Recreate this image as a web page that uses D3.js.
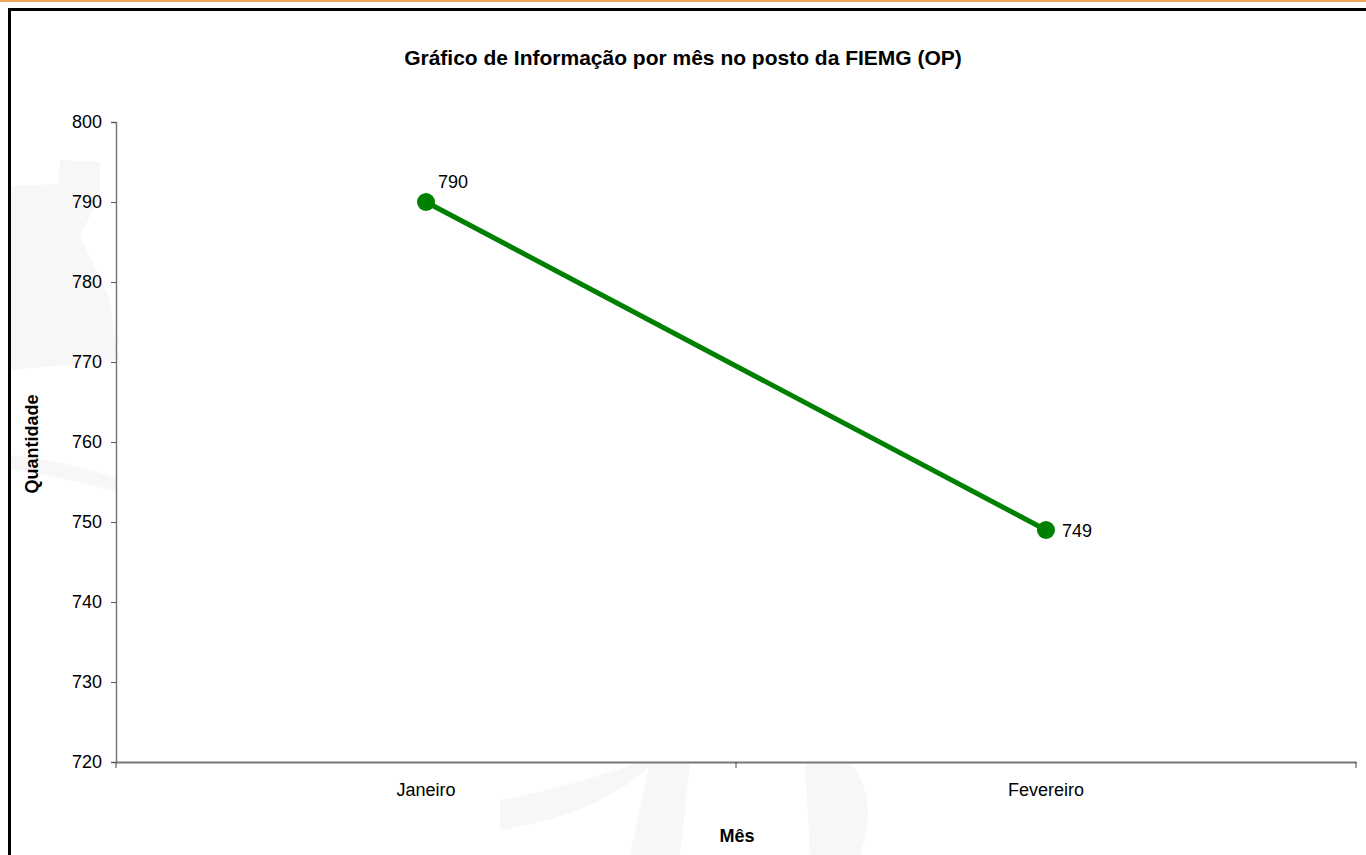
<!DOCTYPE html>
<html>
<head>
<meta charset="utf-8">
<script src="https://cdn.jsdelivr.net/npm/d3@7"></script>
<style>
  body { margin: 0; background: #fff; }
  svg { display: block; font-family: "Liberation Sans", Arial, sans-serif; }
</style>
</head>
<body>
<svg id="chart" width="1366" height="855"></svg>
<script>
// data
const months = ['Janeiro', 'Fevereiro'];
const quantities = [790, 749];
const yTicks = [720, 730, 740, 750, 760, 770, 780, 790, 800];

const svg = d3.select('#chart');
const margin = { left: 116, right: 1356, top: 122, bottom: 762 };
const FONT = '"Liberation Sans", Arial, sans-serif';

// frame: orange rule on top, black border left/top
svg.append('rect').attr('x', 0).attr('y', 0).attr('width', 1366).attr('height', 2)
  .attr('fill', '#f0a45a');
svg.append('path')
  .attr('d', 'M9.5,855V9.5H1366')
  .attr('fill', 'none').attr('stroke', '#000').attr('stroke-width', 3);

// very faint watermark shapes
const wm = svg.append('g').attr('fill', '#f7f7f7');
wm.append('path').attr('d', 'M11,186 L58,184 L60,160 L100,162 L100,196 L80,236 L110,300 L118,360 L11,370 Z');
wm.append('path').attr('d', 'M11,455 Q70,462 116,478 L116,492 Q70,478 11,470 Z');
wm.append('path').attr('d', 'M500,800 Q560,790 640,762 L655,762 Q600,815 500,830 Z');
wm.append('path').attr('d', 'M650,762 L690,762 L680,855 L630,855 Z');
wm.append('path').attr('d', 'M805,762 L850,762 Q880,800 860,855 L810,855 Z');

const x = d3.scaleBand().domain(months).range([margin.left, margin.right]);
const y = d3.scaleLinear().domain([720, 800]).range([margin.bottom, margin.top]);

// y axis
const yAxis = svg.append('g')
  .attr('transform', `translate(${margin.left},0)`)
  .call(d3.axisLeft(y).tickValues(yTicks).tickSize(5).tickPadding(9).tickFormat(d3.format('d')));
yAxis.select('.domain').attr('stroke', '#777').attr('stroke-width', 1.5);
yAxis.selectAll('.tick line').attr('stroke', '#555');
yAxis.selectAll('.tick text').attr('font-size', 18).attr('fill', '#000').attr('font-family', FONT);

// x axis
const xAxis = svg.append('g')
  .attr('transform', `translate(0,${margin.bottom})`)
  .call(d3.axisBottom(x).tickSize(0).tickPadding(21));
xAxis.select('.domain').attr('stroke', '#777').attr('stroke-width', 2);
xAxis.selectAll('.tick text').attr('font-size', 18).attr('fill', '#000').attr('font-family', FONT);
// category boundary ticks
const bounds = months.map(m => x(m)).concat([margin.right]);
svg.append('g').selectAll('line').data(bounds).join('line')
  .attr('x1', d => d).attr('x2', d => d)
  .attr('y1', margin.bottom).attr('y2', margin.bottom + 6)
  .attr('stroke', '#444');

// series line
const pts = months.map((m, i) => ({ m, v: quantities[i] }));
const cx = d => x(d.m) + x.bandwidth() / 2;
const line = d3.line().x(cx).y(d => y(d.v));
svg.append('path').datum(pts)
  .attr('d', line)
  .attr('fill', 'none').attr('stroke', '#008000').attr('stroke-width', 5);
svg.append('g').selectAll('circle').data(pts).join('circle')
  .attr('cx', cx)
  .attr('cy', d => y(d.v))
  .attr('r', 9)
  .attr('fill', '#008000');

// data labels
svg.append('g').selectAll('text').data(pts).join('text')
  .attr('x', (d, i) => cx(d) + (i === 0 ? 27 : 16))
  .attr('y', (d, i) => y(d.v) + (i === 0 ? -14 : 7))
  .attr('text-anchor', (d, i) => i === 0 ? 'middle' : 'start')
  .attr('font-size', 18)
  .text(d => d.v);

// titles
svg.append('text')
  .attr('x', 683).attr('y', 65)
  .attr('text-anchor', 'middle')
  .attr('font-size', 21).attr('font-weight', 'bold')
  .text('Gráfico de Informação por mês no posto da FIEMG (OP)');
svg.append('text')
  .attr('x', 737).attr('y', 842)
  .attr('text-anchor', 'middle')
  .attr('font-size', 18).attr('font-weight', 'bold')
  .text('Mês');
svg.append('text')
  .attr('transform', 'translate(38,444) rotate(-90)')
  .attr('text-anchor', 'middle')
  .attr('font-size', 18).attr('font-weight', 'bold')
  .text('Quantidade');
</script>
</body>
</html>
